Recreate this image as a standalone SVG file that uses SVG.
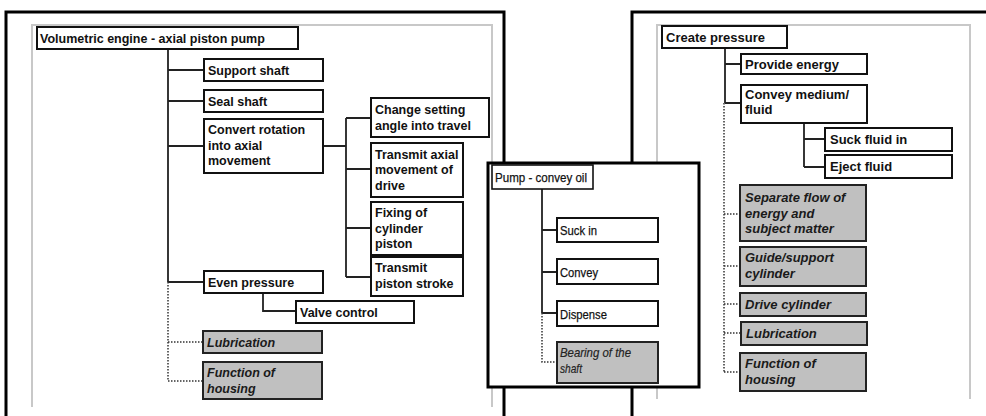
<svg xmlns="http://www.w3.org/2000/svg" width="986" height="416" viewBox="0 0 986 416">
<style>
.frame{fill:none;stroke:#000;stroke-width:3}
.inner{fill:none;stroke:#c8c8c8;stroke-width:2}
.box{fill:#fff;stroke:#111;stroke-width:2}
.gbox{fill:#c0c0c0;stroke:#222;stroke-width:2}
.con{fill:none;stroke:#222;stroke-width:1.8}
.dot{fill:none;stroke:#333;stroke-width:1.5;stroke-dasharray:1.5 1.5}
text{font-family:"Liberation Sans",Arial,sans-serif;fill:#111}
.b{font-size:12.5px;font-weight:bold}
.bi{font-size:12.5px;font-weight:bold;font-style:italic;fill:#1a1a1a}
.b13{font-size:13px;font-weight:bold}
.bi13{font-size:13px;font-weight:bold;font-style:italic;fill:#1a1a1a}
.r{font-size:13.5px;stroke:#111;stroke-width:0.25}
.ri{font-size:13.5px;font-style:italic;fill:#222;stroke:#222;stroke-width:0.2}
</style>
<rect width="986" height="416" fill="#fff"/>
<!-- Left panel -->
<g id="panel-left">
<path class="frame" d="M6,417 V12 H504 V417"/>
<path class="inner" d="M32,407 V25 H492 V407"/>
</g>
<g id="panel-right">
<path class="frame" d="M632,417 V12 H988"/>
<path class="inner" d="M657,399 V25 H970 V399"/>
</g>
<g id="connectors-left">
<path class="con" d="M168,49 V282 M168,70 H204 M168,101 H204 M168,146 H204 M168,282 H204"/>
<path class="con" d="M323,146 H346 M346,118 V277 M346,118 H371 M346,169 H371 M346,228 H371 M346,277 H371"/>
<path class="con" d="M263,293 V311 H296"/>
<path class="dot" d="M168,282 V381 M168,342 H203 M168,381 H203"/>
</g>
<g id="n-volumetric"><rect class="box" x="37" y="27" width="261" height="22"/><text class="b" x="40" y="43">Volumetric engine - axial piston pump</text></g>
<g id="n-support-shaft"><rect class="box" x="204" y="59" width="119" height="22"/><text class="b" x="208" y="74.5">Support shaft</text></g>
<g id="n-seal-shaft"><rect class="box" x="204" y="90" width="119" height="22"/><text class="b" x="208" y="105.5">Seal shaft</text></g>
<g id="n-convert"><rect class="box" x="204" y="119" width="119" height="54"/><text class="b" x="208" y="134">Convert rotation<tspan x="208" y="149.5">into axial</tspan><tspan x="208" y="165">movement</tspan></text></g>
<g id="n-change-setting"><rect class="box" x="371" y="98" width="118" height="39"/><text class="b" x="375" y="114">Change setting<tspan x="375" y="129.5">angle into travel</tspan></text></g>
<g id="n-transmit-axial"><rect class="box" x="371" y="143" width="92" height="54"/><text class="b" x="375" y="158.5">Transmit axial<tspan x="375" y="174">movement of</tspan><tspan x="375" y="189.5">drive</tspan></text></g>
<g id="n-fixing"><rect class="box" x="371" y="202" width="92" height="53"/><text class="b" x="375" y="217">Fixing of<tspan x="375" y="232.5">cylinder</tspan><tspan x="375" y="248">piston</tspan></text></g>
<g id="n-transmit-stroke"><rect class="box" x="371" y="257" width="92" height="39"/><text class="b" x="375" y="272">Transmit<tspan x="375" y="287.5">piston stroke</tspan></text></g>
<g id="n-even-pressure"><rect class="box" x="204" y="271" width="119" height="22"/><text class="b" x="208" y="286.5">Even pressure</text></g>
<g id="n-valve-control"><rect class="box" x="296" y="301" width="118" height="22"/><text class="b" x="300" y="316.5">Valve control</text></g>
<g id="n-lubrication-l"><rect class="gbox" x="203" y="331" width="119" height="22"/><text class="bi" x="207" y="347">Lubrication</text></g>
<g id="n-housing-l"><rect class="gbox" x="203" y="362" width="119" height="37"/><text class="bi" x="207" y="377">Function of<tspan x="207" y="392.5">housing</tspan></text></g>
<!-- Right panel -->
<g id="connectors-right">
<path class="con" d="M725,48 V103 M725,64 H741 M725,103 H741"/>
<path class="con" d="M804,123 V167 M804,139 H825 M804,167 H825"/>
<path class="dot" d="M724,103 V372 M724,214 H740 M724,266 H740 M724,304 H740 M724,333 H741 M724,372 H740"/>
</g>
<g id="n-create-pressure"><rect class="box" x="662" y="26" width="125" height="22"/><text class="b13" x="666" y="42">Create pressure</text></g>
<g id="n-provide-energy"><rect class="box" x="741" y="54" width="126" height="20"/><text class="b13" x="745" y="68.5">Provide energy</text></g>
<g id="n-convey-medium"><rect class="box" x="741" y="85" width="126" height="38"/><text class="b13" x="745" y="98.5">Convey medium/<tspan x="745" y="114">fluid</tspan></text></g>
<g id="n-suck-fluid"><rect class="box" x="825" y="128" width="127" height="23"/><text class="b13" x="830" y="144">Suck fluid in</text></g>
<g id="n-eject-fluid"><rect class="box" x="825" y="155" width="127" height="23"/><text class="b13" x="830" y="171">Eject fluid</text></g>
<g id="n-separate-flow"><rect class="gbox" x="740" y="185" width="126" height="56"/><text class="bi13" x="745" y="202">Separate flow of<tspan x="745" y="217.5">energy and</tspan><tspan x="745" y="233">subject matter</tspan></text></g>
<g id="n-guide-support"><rect class="gbox" x="740" y="247" width="126" height="39"/><text class="bi13" x="745" y="262">Guide/support<tspan x="745" y="277.5">cylinder</tspan></text></g>
<g id="n-drive-cylinder"><rect class="gbox" x="740" y="293" width="126" height="23"/><text class="bi13" x="745" y="308.5">Drive cylinder</text></g>
<g id="n-lubrication-r"><rect class="gbox" x="741" y="322" width="126" height="23"/><text class="bi13" x="746" y="338">Lubrication</text></g>
<g id="n-housing-r"><rect class="gbox" x="740" y="353" width="126" height="38"/><text class="bi13" x="745" y="368">Function of<tspan x="745" y="383.5">housing</tspan></text></g>
<!-- Middle panel -->
<g id="panel-middle"><rect x="488" y="163" width="211" height="224" fill="#fff" stroke="#000" stroke-width="3"/></g>
<g id="connectors-middle">
<path class="con" d="M542,189 V313 M542,230 H557 M542,272 H557 M542,313 H557"/>
<path class="dot" d="M542,313 V362 H557"/>
</g>
<g id="n-pump"><rect x="492" y="165" width="101" height="24" fill="#fff" stroke="#111" stroke-width="1.6"/><text class="r" x="495" y="182" textLength="92" lengthAdjust="spacingAndGlyphs">Pump - convey oil</text></g>
<g id="n-suck-in"><rect class="box" x="557" y="218" width="101" height="24"/><text class="r" x="560" y="235" textLength="37" lengthAdjust="spacingAndGlyphs">Suck in</text></g>
<g id="n-convey"><rect class="box" x="557" y="259" width="101" height="25"/><text class="r" x="560" y="277" textLength="38" lengthAdjust="spacingAndGlyphs">Convey</text></g>
<g id="n-dispense"><rect class="box" x="557" y="301" width="101" height="25"/><text class="r" x="560" y="318.5" textLength="47" lengthAdjust="spacingAndGlyphs">Dispense</text></g>
<g id="n-bearing"><rect class="gbox" x="557" y="342" width="101" height="41"/><text class="ri" x="560" y="357"><tspan textLength="71" lengthAdjust="spacingAndGlyphs">Bearing of the</tspan><tspan x="560" y="373" textLength="22" lengthAdjust="spacingAndGlyphs">shaft</tspan></text></g>
</svg>
